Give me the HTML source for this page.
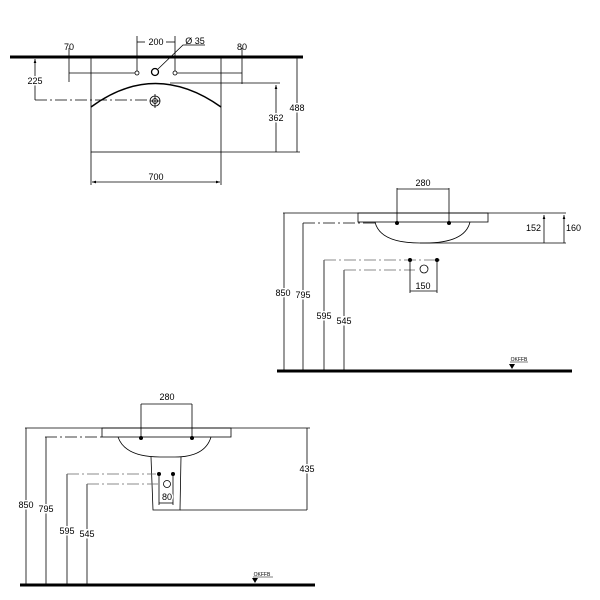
<!DOCTYPE html>
<html><head><style>body{margin:0;background:#fff}svg{display:block}text{font-family:"Liberation Sans",sans-serif;font-size:9px;fill:#000}</style></head><body>
<svg width="600" height="600" viewBox="0 0 600 600" xmlns="http://www.w3.org/2000/svg">
<defs><marker id="a" viewBox="0 0 6 6" refX="6" refY="3" markerWidth="5" markerHeight="5" orient="auto-start-reverse"><path d="M0,1 L6,3 L0,5z" fill="#000"/></marker></defs>
<g stroke="#000" fill="none" stroke-width="0.8">
<!-- TOP VIEW -->
<line x1="10" y1="57" x2="303" y2="57" stroke-width="3"/>
<rect x="91" y="57" width="130" height="95"/>
<path d="M91,107 Q155,60 221,107" stroke-width="1.5"/>
<circle cx="155" cy="101" r="5"/><circle cx="155" cy="101" r="2.5"/>
<line x1="150" y1="101" x2="160" y2="101"/><line x1="155" y1="94" x2="155" y2="108"/>
<circle cx="137" cy="73" r="2"/><circle cx="175" cy="73" r="2"/><circle cx="155" cy="72" r="3.5" stroke-width="1.3"/>
<line x1="137" y1="36" x2="137" y2="71"/><line x1="175" y1="36" x2="175" y2="71"/>
<line x1="137" y1="42" x2="145" y2="42"/><line x1="166" y1="42" x2="175" y2="42"/>
<polyline points="158,69 183,45 205,45"/>
<line x1="69" y1="48" x2="69" y2="82"/><line x1="69" y1="73" x2="135" y2="73"/>
<line x1="242" y1="48" x2="242" y2="84"/><line x1="177" y1="73" x2="242" y2="73"/>
<line x1="35" y1="59" x2="35" y2="100" marker-start="url(#a)"/>
<line x1="35" y1="100" x2="150" y2="100" stroke-dasharray="12,3,2,3"/>
<line x1="170" y1="83" x2="280" y2="83"/>
<line x1="276" y1="85" x2="276" y2="152" marker-start="url(#a)"/>
<line x1="297" y1="57" x2="297" y2="152"/>
<line x1="221" y1="152" x2="300" y2="152"/>
<line x1="91" y1="152" x2="91" y2="185"/><line x1="221" y1="152" x2="221" y2="185"/>
<line x1="92" y1="182" x2="220" y2="182" marker-start="url(#a)" marker-end="url(#a)"/>
<!-- SIDE VIEW 1 -->
<line x1="283" y1="213" x2="566" y2="213"/>
<rect x="358" y="213" width="130" height="9"/>
<path d="M375,222 Q380,243 420,243 L425,243 Q465,243 470,222"/>
<line x1="420" y1="243" x2="566" y2="243"/>
<line x1="397" y1="188" x2="397" y2="222"/><line x1="449" y1="188" x2="449" y2="222"/>
<line x1="397" y1="189" x2="449" y2="189"/>
<line x1="544" y1="215" x2="544" y2="243" marker-start="url(#a)"/>
<line x1="564" y1="215" x2="564" y2="243" marker-start="url(#a)"/>
<line x1="303" y1="223" x2="375" y2="223" stroke-dasharray="12,3,2,3"/>
<line x1="284" y1="213" x2="284" y2="370"/>
<line x1="303" y1="223" x2="303" y2="370"/>
<line x1="324" y1="260" x2="324" y2="370"/>
<line x1="344" y1="270" x2="344" y2="370"/>
<line x1="324" y1="260" x2="440" y2="260" stroke-dasharray="12,3,2,3" stroke="#666"/>
<line x1="344" y1="270" x2="415" y2="270" stroke-dasharray="12,3,2,3" stroke="#666"/>
<circle cx="424" cy="269" r="4"/>
<line x1="410" y1="262" x2="410" y2="293"/><line x1="437" y1="262" x2="437" y2="293"/>
<line x1="410" y1="291" x2="437" y2="291"/>
<line x1="277" y1="371" x2="572" y2="371" stroke-width="3"/>
<line x1="510" y1="362" x2="528" y2="362" stroke-width="0.5"/>
<!-- SIDE VIEW 2 -->
<line x1="25" y1="428" x2="310" y2="428"/>
<rect x="102" y="428" width="129" height="9"/>
<path d="M118,437 Q125,457 160,457 L175,457 Q205,457 211,437"/>
<path d="M151,457 L153,510 L180,510 L181,457"/>
<line x1="180" y1="510" x2="307" y2="510"/>
<line x1="141" y1="404" x2="141" y2="437"/><line x1="192" y1="404" x2="192" y2="437"/>
<line x1="141" y1="404" x2="192" y2="404"/>
<line x1="307" y1="428" x2="307" y2="510"/>
<line x1="45" y1="437" x2="102" y2="437" stroke-dasharray="12,3,2,3"/>
<line x1="26" y1="428" x2="26" y2="585"/>
<line x1="46" y1="437" x2="46" y2="585"/>
<line x1="67" y1="474" x2="67" y2="585"/>
<line x1="87" y1="484" x2="87" y2="585"/>
<line x1="67" y1="474" x2="156" y2="474" stroke-dasharray="12,3,2,3" stroke="#666"/>
<line x1="87" y1="484" x2="158" y2="484" stroke-dasharray="12,3,2,3" stroke="#666"/>
<circle cx="167" cy="484" r="3.5"/>
<line x1="159" y1="474" x2="159" y2="505"/><line x1="173" y1="474" x2="173" y2="505"/>
<line x1="159" y1="503" x2="173" y2="503"/>
<line x1="20" y1="585" x2="315" y2="585" stroke-width="3"/>
<line x1="253" y1="577" x2="273" y2="577" stroke-width="0.5"/>
</g>
<g fill="#000">
<circle cx="410" cy="260" r="2"/><circle cx="437" cy="260" r="2"/>
<circle cx="159" cy="474" r="2"/><circle cx="173" cy="474" r="2"/>
<circle cx="397" cy="223" r="2"/><circle cx="449" cy="223" r="2"/>
<circle cx="141" cy="438" r="2"/><circle cx="192" cy="438" r="2"/>
<path d="M509,364 L515,364 L512,369z"/><path d="M252,578 L258,578 L255,583z"/>
</g>
<g text-anchor="middle">
<text x="156" y="45">200</text>
<text x="195" y="44">Ø 35</text>
<text x="69" y="50">70</text>
<text x="242" y="50">80</text>
<text x="35" y="84" style="paint-order:stroke" stroke="#fff" stroke-width="3">225</text>
<text x="276" y="121" style="paint-order:stroke" stroke="#fff" stroke-width="3">362</text>
<text x="297" y="111" style="paint-order:stroke" stroke="#fff" stroke-width="3">488</text>
<text x="156" y="180">700</text>
<text x="423" y="186">280</text>
<text x="541" y="231" text-anchor="end">152</text>
<text x="566" y="231" text-anchor="start">160</text>
<text x="283" y="296" style="paint-order:stroke" stroke="#fff" stroke-width="3">850</text>
<text x="303" y="298" style="paint-order:stroke" stroke="#fff" stroke-width="3">795</text>
<text x="324" y="319" style="paint-order:stroke" stroke="#fff" stroke-width="3">595</text>
<text x="344" y="324" style="paint-order:stroke" stroke="#fff" stroke-width="3">545</text>
<text x="423" y="289">150</text>
<text x="519" y="361" style="font-size:5px">OKFFB</text>
<text x="167" y="400">280</text>
<text x="307" y="472" style="paint-order:stroke" stroke="#fff" stroke-width="3">435</text>
<text x="26" y="508" style="paint-order:stroke" stroke="#fff" stroke-width="3">850</text>
<text x="46" y="512" style="paint-order:stroke" stroke="#fff" stroke-width="3">795</text>
<text x="67" y="534" style="paint-order:stroke" stroke="#fff" stroke-width="3">595</text>
<text x="87" y="537" style="paint-order:stroke" stroke="#fff" stroke-width="3">545</text>
<text x="167" y="500" style="paint-order:stroke" stroke="#fff" stroke-width="3">80</text>
<text x="262" y="576" style="font-size:5px">OKFFB</text>
</g>
</svg>
</body></html>
